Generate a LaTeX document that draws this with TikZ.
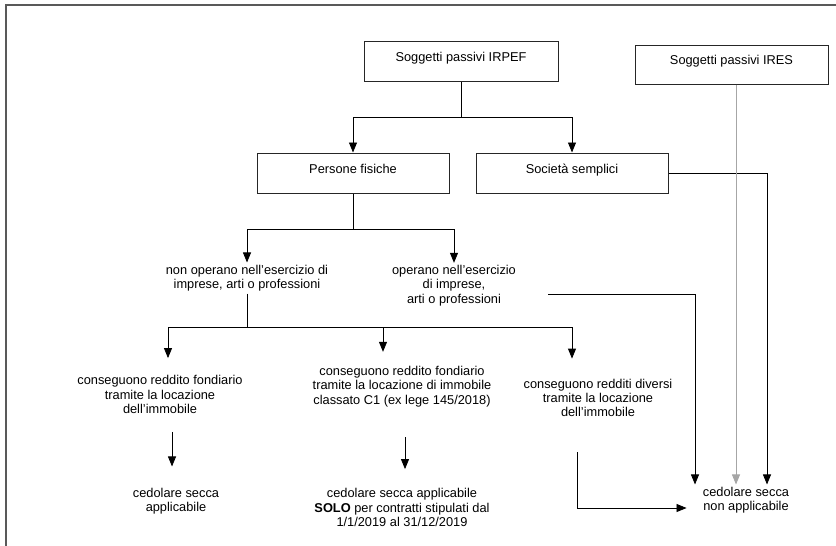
\documentclass[tikz,border=0pt]{standalone}
\usepackage{fontspec}
\setmainfont{Liberation Sans}
\usetikzlibrary{arrows.meta}
\tikzset{
  box/.style={draw=black!85, line width=1pt, minimum width=192pt, minimum height=40pt, text depth=9pt},
  txt/.style={align=center, inner sep=2pt},
  arr/.style={-{Triangle[length=10pt,width=8pt]}},
}
\begin{document}
\begin{tikzpicture}[x=1pt, y=-1pt, line width=0.8pt, font=\fontsize{12.8}{14.3}\selectfont]
\useasboundingbox (0,0) rectangle (836,546);
\draw[black!65, line width=1.3pt] (6,546) -- (6,5) -- (836,5);

\node[box, minimum width=194pt] (irpef) at (461,61.5) {Soggetti passivi IRPEF};
\node[box, minimum width=193pt, minimum height=39pt] (ires) at (731.5,64.5) {Soggetti passivi IRES};
\node[box] (persone) at (353,173) {Persone fisiche};
\node[box] (societa) at (572,173) {Società semplici};

\node[txt] (nonop) at (247,278) {non operano nell’esercizio di\\imprese, arti o professioni};
\node[txt] (op) at (454,285.5) {operano nell’esercizio\\di imprese,\\arti o professioni};
\node[txt] (fond) at (160,394.5) {conseguono reddito fondiario\\tramite la locazione\\dell’immobile};
\node[txt] (fondcu) at (402,386.5) {conseguono reddito fondiario\\tramite la locazione di immobile\\classato C1 (ex lege 145/2018)};
\node[txt] (diversi) at (598,398) {conseguono redditi diversi\\tramite la locazione\\dell’immobile};
\node[txt] (applic) at (176,501) {cedolare secca\\applicabile};
\node[txt] (solo) at (402,507.5) {cedolare secca applicabile\\\textbf{SOLO} per contratti stipulati dal\\1/1/2019 al 31/12/2019};
\node[txt] (nonapplic) at (746,500) {cedolare secca\\non applicabile};

\draw (irpef.south) -- ++(0,35.5) coordinate (top);
\draw[arr] (top) -| (persone.north);
\draw[arr] (top) -| (societa.north);

\draw (persone.south) -- ++(0,36) coordinate (mid);
\draw[arr] (mid) -| (nonop.north);
\draw[arr] (mid) -| (op.north);

\draw (nonop.south) -- ++(0,33) coordinate (bar);
\coordinate (barL) at (168,327);
\coordinate (barM) at (383,327);
\coordinate (barR) at (572,327);
\draw (barL) -- (barR);
\draw[arr, shorten >=15pt] (barL) -- (barL |- fond.north);
\draw[arr, shorten >=12pt] (barM) -- (barM |- fondcu.north);
\draw[arr, shorten >=18pt] (barR) -- (barR |- diversi.north);

\draw[arr, shorten <=16pt, shorten >=19pt] ([xshift=12pt]fond.south) -- ([xshift=-4pt]applic.north);
\draw[arr, shorten <=28pt, shorten >=17pt] ([xshift=3pt]fondcu.south) -- ([xshift=3pt]solo.north);
\draw[arr, shorten >=14pt] ([xshift=-21pt, yshift=-33pt]diversi.south) |- ([yshift=-8pt]nonapplic.west);

\draw[arr] ([shift={(30pt,-8.5pt)}]op.east) -| ([xshift=-51pt]nonapplic.north);
\draw[arr] (societa.east) -| ([xshift=21pt]nonapplic.north);
\draw[arr, draw=black!35] ([xshift=4.5pt]ires.south) -- ([xshift=4.5pt]ires.south |- nonapplic.north);
\end{tikzpicture}
\end{document}
